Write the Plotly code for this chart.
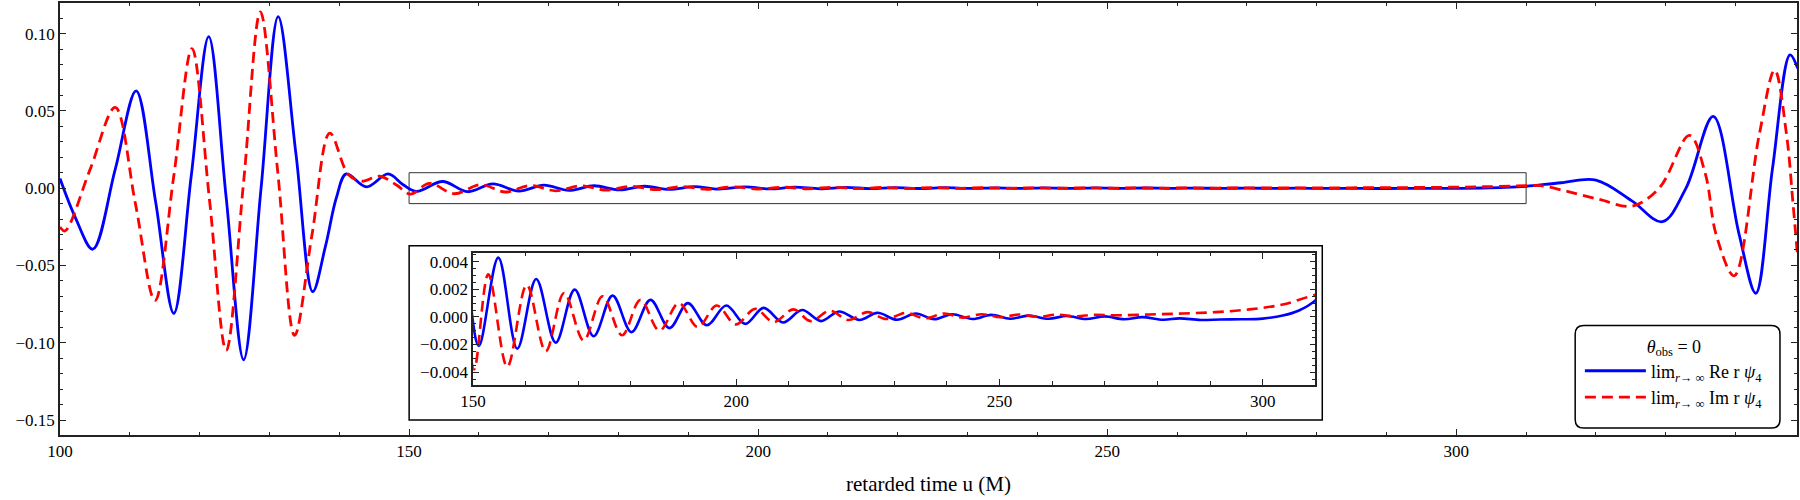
import plotly.graph_objects as go

# ---------------- data ----------------
u_re = [100.0, 102.2, 104.7, 107.9, 110.9, 113.7, 116.3, 118.8, 121.3, 123.8,
        126.3, 128.8, 131.25, 133.8, 136.2, 138.0, 139.6, 141.0, 143.9, 147.0,
        149.2, 151.1, 154.8, 158.4, 162.0, 165.7, 169.3, 172.9, 176.5, 180.1,
        183.7, 187.3, 190.8, 194.4, 198.1, 201.7, 205.2, 208.9, 212.5, 216.1,
        219.5, 223.4, 226.8, 230.5, 234.1, 237.6, 241.0, 244.9, 248.4, 252.0,
        255.5, 259.3, 262.8, 266.4, 270.0, 273.7, 277.1, 281.1, 284.2, 288.2,
        292.0, 296.0, 300.0, 303.8, 306.9, 310.0, 315.0, 320.0, 325.2, 329.5,
        332.9, 336.8, 340.5, 342.9, 345.3, 347.8, 348.9]
re_psi4 = [0.0062, -0.019, -0.0395, 0.012, 0.063, -0.009, -0.081, 0.008, 0.098, -0.006,
           -0.111, 0.0, 0.111, 0.022, -0.067, -0.038, -0.006, 0.0092, 0.0008, 0.0092,
           0.002, -0.0021, 0.0043, -0.0023, 0.00275, -0.00186, 0.00198, -0.0014, 0.00155, -0.0011,
           0.00124, -0.00081, 0.001, -0.0006, 0.00083, -0.0005, 0.00066, -0.0004, 0.0005, -0.0003,
           0.0004, -0.00022, 0.0003, -0.0002, 0.00025, -0.00016, 0.0002, -0.00015, 0.00015, -0.00013,
           0.0001, -0.00013, 0.00007, -0.00015, 0.00004, -0.00017, -0.00001, -0.0002, -0.0001, -0.00022,
           -0.00018, -0.00017, -0.00012, 0.0001, 0.00047, 0.0012, 0.0035, 0.0052, -0.0084, -0.0217,
           0.0, 0.0464, -0.0297, -0.068, 0.013, 0.0862, 0.0775]

u_im = [100.0, 100.7, 104.3, 107.9, 110.8, 113.6, 116.3, 118.9, 121.4, 123.8,
        126.3, 128.7, 131.2, 133.6, 136.1, 138.65, 141.3, 143.2, 145.8, 148.2,
        150.2, 152.9, 156.5, 160.2, 163.8, 167.3, 171.0, 174.6, 178.3, 181.8,
        185.4, 189.1, 192.7, 196.3, 199.9, 203.6, 207.1, 210.9, 214.1, 217.8,
        221.3, 224.9, 228.5, 232.2, 235.8, 239.5, 243.0, 246.6, 250.2, 253.7,
        257.4, 260.8, 264.5, 267.9, 272.0, 278.5, 284.8, 291.1, 297.5, 303.8,
        310.0, 312.0, 315.7, 320.5, 325.2, 329.1, 333.4, 335.7, 337.2, 339.8,
        343.4, 345.6, 347.3, 348.2, 348.9]
im_psi4 = [-0.0251, -0.0277, 0.012, 0.0522, -0.01, -0.0728, 0.008, 0.0903, -0.007, -0.105,
           0.004, 0.114, 0.01, -0.0953, -0.03, 0.0356, 0.0088, 0.0045, 0.0077, 0.002,
           -0.0038, 0.0031, -0.0036, 0.00232, -0.00249, 0.00174, -0.0017, 0.0015, -0.00133, 0.00124,
           -0.001, 0.001, -0.00073, 0.00083, -0.00054, 0.00059, -0.00037, 0.00055, -0.0003, 0.00045,
           -0.00022, 0.00035, -0.00015, 0.0003, -0.0001, 0.00025, -0.00005, 0.0002, -0.00002, 0.00018,
           0.00001, 0.00017, 0.00005, 0.00016, 0.00012, 0.00018, 0.00025, 0.00035, 0.00055, 0.0009,
           0.0016, 0.0017, -0.0019, -0.0073, -0.0116, 0.0002, 0.0341, 0.0088, -0.0297, -0.0567,
           0.0348, 0.0764, 0.0346, -0.0084, -0.045]

name_re = "lim<sub><i>r</i>→ ∞</sub> Re r <i>ψ</i><sub>4</sub>"
name_im = "lim<sub><i>r</i>→ ∞</sub> Im r <i>ψ</i><sub>4</sub>"
legend_title = "<i>θ</i><sub>obs</sub> = 0"
x_title = "retarded time u (M)"

main_x_range = [100, 348.8]
main_y_range = [-0.1597, 0.1198]
inset_x_range = [150, 310]
inset_y_range = [-0.0049, 0.00465]
zoom_box_x = [150, 310]
zoom_box_y = [-0.01, 0.01]

# ---------------- styles ----------------
FONT = "Liberation Serif"
BLUE = "#0000ff"
RED = "#ff0000"
AX = "#222222"

fig = go.Figure()
fig.add_trace(go.Scatter(x=u_re, y=re_psi4, mode="lines", name=name_re,
                         line=dict(color=BLUE, width=2.8, shape="spline", smoothing=1.0),
                         xaxis="x", yaxis="y"))
fig.add_trace(go.Scatter(x=u_im, y=im_psi4, mode="lines", name=name_im,
                         line=dict(color=RED, width=2.8, dash="11px,6px", shape="spline", smoothing=1.0),
                         xaxis="x", yaxis="y"))
# inset (same data, zoomed axes)
fig.add_trace(go.Scatter(x=u_re, y=re_psi4, mode="lines", showlegend=False,
                         line=dict(color=BLUE, width=2.6, shape="spline", smoothing=1.0),
                         xaxis="x2", yaxis="y2"))
fig.add_trace(go.Scatter(x=u_im, y=im_psi4, mode="lines", showlegend=False,
                         line=dict(color=RED, width=2.6, dash="11px,6px", shape="spline", smoothing=1.0),
                         xaxis="x2", yaxis="y2"))


def axis_common(**kw):
    d = dict(showline=True, linecolor=AX, linewidth=1.5, mirror="allticks",
             ticks="inside", ticklen=6, tickwidth=1, tickcolor=AX,
             showgrid=False, zeroline=False,
             tickfont=dict(family=FONT, size=17, color="black"))
    d.update(kw)
    return d


fig.update_layout(
    width=1800, height=500,
    margin=dict(l=60, r=2, t=1, b=65),
    plot_bgcolor="white", paper_bgcolor="white",
    font=dict(family=FONT, size=17, color="black"),
    xaxis=axis_common(range=main_x_range, domain=[0, 1], tick0=100, dtick=50,
                      minor=dict(ticks="inside", ticklen=3.5, tickwidth=1, tickcolor=AX, tick0=100, dtick=10),
                      title=dict(text=x_title, font=dict(family=FONT, size=21), standoff=16)),
    yaxis=axis_common(range=main_y_range, domain=[0, 1], tick0=0, dtick=0.05, tickformat=".2f",
                      minor=dict(ticks="inside", ticklen=3.5, tickwidth=1, tickcolor=AX, tick0=0, dtick=0.01)),
    xaxis2=axis_common(range=inset_x_range, domain=[0.2378, 0.7227], anchor="y2", tick0=150, dtick=50,
                       minor=dict(ticks="inside", ticklen=3.5, tickwidth=1, tickcolor=AX, tick0=150, dtick=10)),
    yaxis2=axis_common(range=inset_y_range, domain=[0.1168, 0.4217], anchor="x2", tick0=0, dtick=0.002,
                       tickformat=".3f",
                       minor=dict(ticks="inside", ticklen=3.5, tickwidth=1, tickcolor=AX, tick0=0, dtick=0.0005)),
    legend=dict(x=0.875, y=0.245, xanchor="left", yanchor="top",
                bgcolor="rgba(0,0,0,0)", borderwidth=0, itemwidth=61,
                title=dict(text=legend_title, side="top center", font=dict(family=FONT, size=18)),
                font=dict(family=FONT, size=18, color="black")),
)

# zoom-region rectangle in the main plot
fig.add_shape(type="rect", xref="x", yref="y", x0=zoom_box_x[0], x1=zoom_box_x[1],
              y0=zoom_box_y[0], y1=zoom_box_y[1], line=dict(color="#333333", width=1), layer="below")
# inset outer frame
fig.add_shape(type="rect", xref="paper", yref="paper", x0=0.201, x1=0.7267, y0=0.0346, y1=0.4378,
              line=dict(color="black", width=1.5), fillcolor="white", layer="below")
# rounded legend box
lx0, lx1, ly0, ly1 = 0.8723, 0.9902, 0.0161, 0.2535
rx, ry = 0.0050, 0.0200
path = (f"M{lx0+rx},{ly0} L{lx1-rx},{ly0} Q{lx1},{ly0} {lx1},{ly0+ry} "
        f"L{lx1},{ly1-ry} Q{lx1},{ly1} {lx1-rx},{ly1} "
        f"L{lx0+rx},{ly1} Q{lx0},{ly1} {lx0},{ly1-ry} "
        f"L{lx0},{ly0+ry} Q{lx0},{ly0} {lx0+rx},{ly0} Z")
fig.add_shape(type="path", xref="paper", yref="paper", path=path,
              line=dict(color="black", width=1.5), fillcolor="white", layer="above")

fig.write_html("out.html")
